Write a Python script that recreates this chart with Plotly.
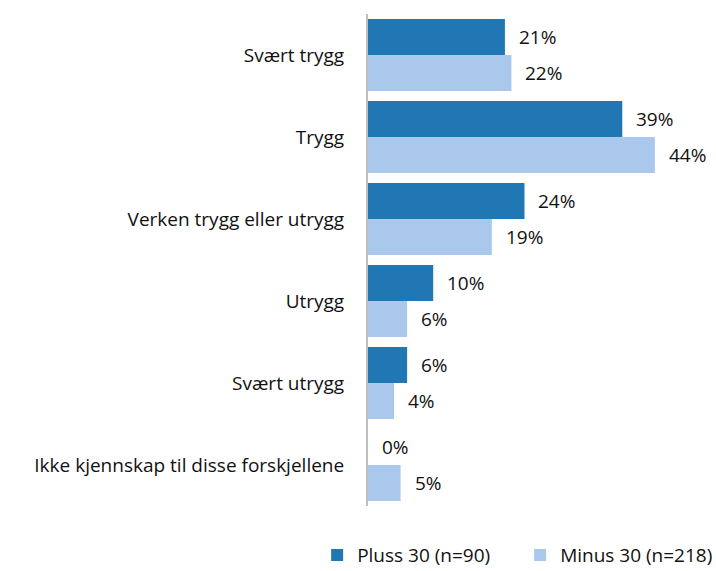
import plotly.graph_objects as go

categories = ["Svært trygg", "Trygg", "Verken trygg eller utrygg", "Utrygg", "Svært utrygg",
              "Ikke kjennskap til disse forskjellene"]
pluss30 = [21, 39, 24, 10, 6, 0]
minus30 = [22, 44, 19, 6, 4, 5]
series_names = ["Pluss 30 (n=90)", "Minus 30 (n=218)"]
colors = ["#2077B4", "#A9C8EC"]

fig = go.Figure()
for name, vals, col in zip(series_names, [pluss30, minus30], colors):
    fig.add_trace(go.Bar(y=categories, x=vals, orientation="h", name=name,
                         marker=dict(color=col, line=dict(width=0))))

annotations = []
for vals, shift in [(pluss30, 18), (minus30, -18)]:
    for c, v in zip(categories, vals):
        annotations.append(dict(x=v, y=c, xref="x", yref="y", text=f"{v}%", showarrow=False,
                                xanchor="left", xshift=12, yshift=shift,
                                font=dict(size=19, color="#111111")))

fig.update_layout(
    width=716, height=571,
    margin=dict(l=368, r=22, t=14, b=65, autoexpand=False),
    paper_bgcolor="white", plot_bgcolor="white",
    barmode="group", bargap=0.12, bargroupgap=0,
    font=dict(family="Open Sans, Roboto, sans-serif", size=19, color="#111111"),
    xaxis=dict(range=[0, 50], showgrid=False, zeroline=False, showticklabels=False,
               showline=False, automargin=False),
    yaxis=dict(autorange="reversed", showline=True, linecolor="#BFBFBF", linewidth=2,
               ticks="", ticklabelstandoff=18, showgrid=False, automargin=False),
    legend=dict(orientation="h", xref="paper", yref="paper", x=-0.156, xanchor="left",
                y=-0.1, yanchor="middle", font=dict(size=19), itemwidth=30,
                entrywidth=158, traceorder="normal", tracegroupgap=0),
    annotations=annotations,
    showlegend=True,
)
fig.write_html("out.html", config={"displayModeBar": False},
               post_script="document.body.style.margin='0';document.body.style.overflow='hidden';")
